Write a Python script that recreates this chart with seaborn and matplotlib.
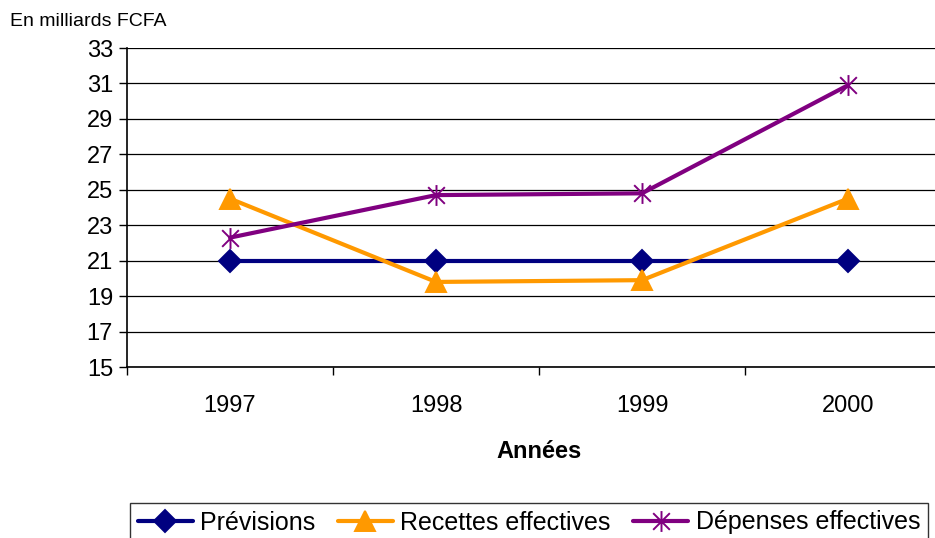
import numpy as np
import pandas as pd
import matplotlib
matplotlib.use("Agg")
import matplotlib.pyplot as plt
from matplotlib.path import Path
import seaborn as sns

# --- data ---
years = ["1997", "1998", "1999", "2000"]
previsions = [21.0, 21.0, 21.0, 21.0]
recettes = [24.5, 19.8, 19.9, 24.5]
depenses = [22.3, 24.7, 24.8, 30.9]
series_names = ["Prévisions", "Recettes effectives", "Dépenses effectives"]
y_ticks = list(range(15, 34, 2))

df = pd.DataFrame({
    "Année": years * 3,
    "Valeur": previsions + recettes + depenses,
    "Série": np.repeat(series_names, len(years)),
})
df["pos"] = df["Année"].map({y: i for i, y in enumerate(years)})

sns.set_theme(style="white")
plt.rcParams["font.family"] = ["Liberation Sans", "DejaVu Sans"]
plt.rcParams.update({"text.color": "black", "axes.labelcolor": "black",
                     "xtick.color": "black", "ytick.color": "black"})

# asterisk like Excel: X plus a vertical bar
star = Path(
    [(-1, -1), (1, 1), (-1, 1), (1, -1), (0, -1.25), (0, 1.25)],
    [Path.MOVETO, Path.LINETO, Path.MOVETO, Path.LINETO, Path.MOVETO, Path.LINETO],
)

styles = {
    "Prévisions": dict(color="#000080", marker="D", markersize=11),
    "Recettes effectives": dict(color="#FF9900", marker="^", markersize=15),
    "Dépenses effectives": dict(color="#800080", marker=star, markersize=15),
}

W, H = 935, 538
fig = plt.figure(figsize=(W / 100, H / 100), dpi=100)
ax = fig.add_axes([127 / W, 1 - 367 / H, (951 - 127) / W, (367 - 48) / H])

for name in series_names:
    st = styles[name]
    sub = df[df["Série"] == name]
    sns.lineplot(data=sub, x="pos", y="Valeur", ax=ax, color=st["color"],
                 marker=st["marker"], markersize=st["markersize"],
                 markeredgecolor=st["color"], markeredgewidth=1.4,
                 linewidth=3, label=name, legend=False)

ax.set_xlim(-0.5, len(years) - 0.5)
ax.set_ylim(15, 33)
ax.set_yticks(y_ticks)
ax.yaxis.grid(True, color="black", linewidth=0.9)
ax.set_axisbelow(True)
ax.tick_params(axis="y", labelsize=17, length=6, width=1, direction="out", pad=4, left=True)

ax.set_xticks(range(len(years)))
ax.set_xticklabels(years)
ax.set_xticks(np.arange(-0.5, len(years)), minor=True)
ax.tick_params(axis="x", which="major", length=0, labelsize=17, pad=20)
ax.tick_params(axis="x", which="minor", length=6, width=1, direction="out", bottom=True)

for s in ["top", "right"]:
    ax.spines[s].set_visible(False)
for s in ["left", "bottom"]:
    ax.spines[s].set_color("black")
    ax.spines[s].set_linewidth(1.2)

ax.set_xlabel("Années", fontsize=17, fontweight="bold", labelpad=17)
ax.set_ylabel("")

fig.text(10 / W, 1 - 22 / H, "En milliards FCFA", fontsize=14, va="center", ha="left")

handles, labels = ax.get_legend_handles_labels()
leg = fig.legend(handles, labels, loc="upper left", bbox_to_anchor=(130 / W, 1 - 503 / H),
                 ncol=3, frameon=True, fancybox=False, edgecolor="black", fontsize=18,
                 handlelength=2.2, handletextpad=0.3, columnspacing=0.9,
                 borderpad=0.3, borderaxespad=0)
leg.get_frame().set_linewidth(1.0)

fig.savefig("out.png", dpi=100)
